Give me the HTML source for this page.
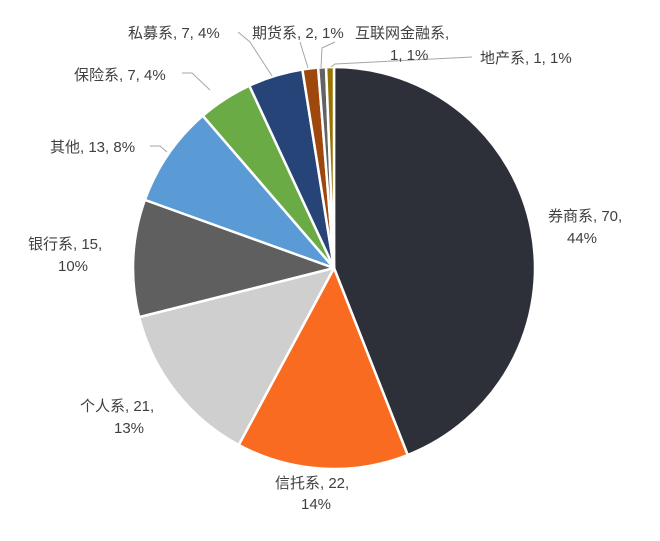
<!DOCTYPE html>
<html><head><meta charset="utf-8"><style>
html,body{margin:0;padding:0;background:#fff;}
svg text{font-family:"Liberation Sans","Noto Sans CJK SC",sans-serif;font-size:15px;fill:#404040;}
</style></head><body>
<svg id="s" width="660" height="536" xmlns="http://www.w3.org/2000/svg">
<g id="pie"></g>
<g stroke="#a6a6a6" stroke-width="1" fill="none">
<polyline points="150,146 160,146 167,152"/>
<polyline points="182,73 192,73 210,90"/>
<polyline points="238,32 250,42 272,76"/>
<polyline points="300,42 308,68"/>
<polyline points="335,42 322,48 321,68"/>
<polyline points="472,57 335,64 331,67"/>
</g>
<text x="548" y="221">券商系, 70,</text>
<text x="567" y="243">44%</text>
<text x="275" y="488">信托系, 22,</text>
<text x="301" y="509">14%</text>
<text x="80" y="411">个人系, 21,</text>
<text x="114" y="433">13%</text>
<text x="28" y="249">银行系, 15,</text>
<text x="58" y="271">10%</text>
<text x="50" y="152">其他, 13, 8%</text>
<text x="74" y="80">保险系, 7, 4%</text>
<text x="128" y="38">私募系, 7, 4%</text>
<text x="252" y="38">期货系, 2, 1%</text>
<text x="355" y="38">互联网金融系,</text>
<text x="390" y="60">1, 1%</text>
<text x="480" y="63">地产系, 1, 1%</text>
</svg>
<script>
var d=[[70,"#2d3038"],[22,"#f96b20"],[21,"#cfcfcf"],[15,"#5f5f5f"],[13,"#5b9bd5"],[7,"#6aab46"],[7,"#264478"],[2,"#9e480e"],[1,"#636363"],[1,"#997300"]];
var tot=159,cx=334,cy=268,r=201,a=0,g=document.getElementById("pie"),h="";
d.forEach(function(e){var a2=a+e[0]/tot*2*Math.PI;
var x1=cx+r*Math.sin(a),y1=cy-r*Math.cos(a),x2=cx+r*Math.sin(a2),y2=cy-r*Math.cos(a2);
var lg=(a2-a)>Math.PI?1:0;
h+='<path d="M'+cx+','+cy+' L'+x1+','+y1+' A'+r+','+r+' 0 '+lg+' 1 '+x2+','+y2+' Z" fill="'+e[1]+'" stroke="#fff" stroke-width="2.5" stroke-linejoin="round"/>';
a=a2;});
g.innerHTML=h;
</script>
</body></html>
